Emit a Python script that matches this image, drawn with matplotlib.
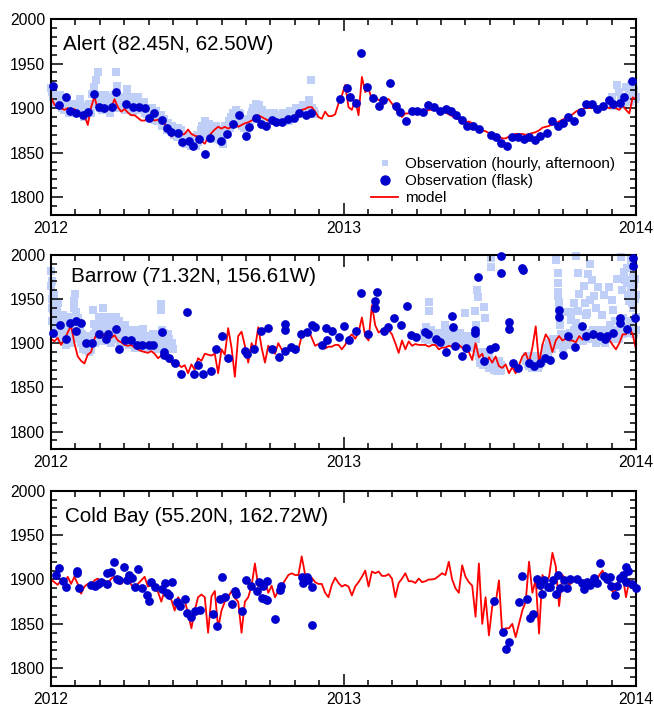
import numpy as np
import matplotlib
matplotlib.use("Agg")
import matplotlib.pyplot as plt
from matplotlib.ticker import MultipleLocator, FixedLocator
from matplotlib.lines import Line2D

plt.rcParams['font.family'] = ['Liberation Sans', 'DejaVu Sans']

# ---------------- data ----------------
station_names = ["Alert (82.45N, 62.50W)", "Barrow (71.32N, 156.61W)", "Cold Bay (55.20N, 162.72W)"]
year_ticks = [2012, 2013, 2014]
legend_labels = ["Observation (hourly, afternoon)", "Observation (flask)", "model"]

# model (evenly spaced through 2012-2013)
alert_model = [1912,1904,1901,1900,1898,1900,1896,1899,1895,1892,
               1892,1881,1901,1913,1898,1898,1899,1898,1900,1910,
               1901,1896,1899,1895,1892,1892,1889,1886,1886,1889,
               1888,1886,1887,1885,1882,1878,1868,1871,1875,1870,
               1871,1876,1871,1869,1868,1863,1860,1867,1872,1876,
               1879,1877,1879,1877,1879,1884,1879,1881,1883,1884,
               1886,1888,1892,1890,1888,1886,1886,1886,1884,1885,
               1888,1888,1888,1892,1894,1898,1899,1901,1901,1896,
               1890,1888,1896,1891,
               1891,1893,1905,1914,1926,1901,1898,1909,1892,1935,
               1918,1922,1909,1912,1909,1908,1910,1910,1905,1899,
               1894,1890,1894,1894,1896,1896,1897,1895,1896,1898,
               1898,1898,1898,1896,1895,1893,1891,1889,1887,1886,
               1884,1885,1883,1879,1876,1875,1874,1872,1871,1869,
               1868,1866,1866,1868,1869,1871,1871,1871,1870,1871,
               1872,1873,1875,1878,1879,1880,1882,1883,1885,1887,
               1889,1891,1893,1896,1898,1899,1900,1900,1900,1900,
               1898,1899,1901,1900,1901,1900,1898,1903,1898,1894,
               1912,1910]

barrow_model = [1905,1902,1906,1898,1904,1912,1920,1900,1885,1880,
                1877,1887,1890,1905,1913,1906,1910,1904,1906,1909,
                1903,1901,1898,1897,1898,1895,1893,1891,1890,1889,
                1891,1888,1883,1886,1884,1880,1878,1875,1876,1873,
                1875,1866,1876,1870,1883,1880,1888,1887,1886,1888,
                1866,1893,1887,1917,1895,1862,1908,1913,1897,1878,
                1900,1893,1918,1895,1878,1897,1893,1888,1900,1893,
                1888,1895,1894,1896,1893,1908,1911,1915,1906,1897,
                1899,1895,1894,1896,
                1896,1898,1898,1893,1898,1906,1910,1905,1912,1929,
                1908,1903,1943,1920,1912,1915,1917,1915,1910,1900,
                1889,1903,1893,1902,1897,1899,1898,1898,1898,1896,
                1898,1898,1893,1895,1895,1897,1896,1894,1898,1895,
                1891,1890,1881,1900,1884,1888,1876,1884,1878,1885,
                1874,1872,1876,1866,1873,1866,1875,1885,1889,1878,
                1895,1919,1877,1898,1910,1904,1890,1903,1908,1903,
                1905,1903,1903,1901,1908,1904,1907,1908,1906,1907,
                1911,1905,1906,1904,1898,1893,1900,1910,1910,1918,
                1910,1893]

coldbay_model = [1900,1897,1894,1899,1895,1903,1895,1903,1895,1884,
                 1892,1895,1894,1899,1901,1897,1899,1895,1901,1903,
                 1897,1895,1899,1905,1894,1890,1895,1899,1903,1892,
                 1894,1890,1886,1875,1888,1882,1877,1865,1880,1874,
                 1876,1862,1845,1865,1880,1883,1880,1840,1881,1887,
                 1845,1865,1875,1880,1887,1879,1875,1840,1875,1880,
                 1893,1918,1892,1896,1898,1885,1893,1880,1887,1893,
                 1899,1905,1907,1905,1905,1926,1906,1899,1902,1897,
                 1895,1895,1885,1880,
                 1894,1902,1896,1892,1894,1892,1882,1892,1897,1903,
                 1910,1892,1909,1907,1909,1904,1904,1906,1901,1880,
                 1896,1901,1907,1898,1898,1896,1901,1897,1898,1900,
                 1900,1901,1904,1907,1905,1920,1900,1890,1885,1916,
                 1903,1897,1893,1858,1918,1850,1880,1837,1870,1873,
                 1899,1838,1845,1845,1850,1835,1850,1865,1875,1920,
                 1885,1900,1839,1905,1898,1903,1930,1915,1870,1905,
                 1900,1894,1897,1901,1899,1896,1897,1898,1897,1895,
                 1905,1910,1901,1894,1886,1888,1903,1905,1880,1899,
                 1897,1892]

# flask observations: months since Jan 2012, value
alert_flask_t = [0.10,0.34,0.63,0.79,1.04,1.30,1.50,1.75,1.98,2.19,2.49,2.66,3.09,3.37,3.62,
                 3.84,4.00,4.22,4.54,4.75,4.92,5.20,5.37,5.68,5.83,6.07,6.31,6.52,6.97,7.20,
                 7.45,7.70,7.98,8.14,8.43,8.60,8.81,9.06,9.25,9.48,9.74,9.98,10.19,10.48,10.68,
                 11.85,12.15,12.27,12.53,12.70,12.95,13.21,13.45,13.64,13.91,14.17,14.33,14.56,
                 14.79,15.03,15.25,15.47,15.72,15.95,16.22,16.40,16.63,16.86,17.08,17.31,17.54,
                 18.05,18.24,18.45,18.69,18.93,19.16,19.39,19.61,19.84,20.07,20.34,20.56,20.78,
                 21.00,21.23,21.45,21.76,21.93,22.20,22.39,22.64,22.91,23.06,23.35,23.52,23.82]
alert_flask_v = [1925,1903,1912,1897,1894,1892,1896,1916,1901,1900,1901,1918,1905,1901,1901,
                 1900,1889,1894,1887,1878,1873,1872,1862,1863,1858,1865,1848,1866,1863,1871,
                 1882,1892,1869,1879,1889,1882,1880,1887,1884,1884,1888,1889,1895,1892,1894,
                 1910,1922,1913,1906,1962,1924,1911,1902,1909,1928,1902,1896,1885,
                 1897,1897,1896,1904,1901,1897,1899,1897,1892,1887,1880,1880,1877,
                 1870,1868,1861,1858,1868,1868,1865,1868,1864,1869,1872,1886,1880,
                 1883,1890,1886,1896,1905,1905,1899,1902,1909,1905,1906,1912,1930]

barrow_flask_t = [0.10,0.37,0.63,0.78,1.01,1.02,1.22,1.43,1.69,1.98,2.25,2.35,2.65,2.80,3.03,
                  3.27,3.51,3.72,4.02,4.18,4.54,4.62,4.63,4.85,5.08,5.34,5.56,5.85,6.04,6.24,
                  6.56,6.76,7.00,7.28,7.95,8.05,8.32,8.62,8.91,9.08,9.36,9.58,9.58,9.60,9.84,
                  9.99,10.27,10.49,10.70,10.83,11.11,11.30,11.33,
                  11.53,11.83,12.01,12.24,12.51,12.72,12.99,13.28,13.29,13.37,13.66,13.81,14.06,
                  14.36,14.61,14.77,14.99,15.36,15.45,15.78,15.97,16.22,16.45,16.48,16.59,16.86,
                  17.04,17.38,17.38,17.51,17.75,18.00,18.20,18.47,18.48,18.81,18.81,18.96,19.15,
                  19.34,19.35,19.59,19.81,20.08,20.28,20.49,20.85,20.85,21.00,21.20,21.49,21.78,
                  21.96,22.23,22.52,22.71,22.82,23.07,23.34,23.34,23.64,23.86,23.86,23.96]
barrow_flask_v = [1912,1920,1905,1923,1914,1925,1923,1900,1900,1910,1905,1910,1916,1893,1904,
                  1904,1898,1898,1898,1898,1913,1890,1887,1883,1877,1865,1935,1865,1875,1865,
                  1869,1893,1908,1883,1891,1888,1893,1914,1917,1893,1884,1922,1915,1891,1896,
                  1893,1910,1913,1921,1918,1898,1917,1904,
                  1914,1907,1919,1904,1914,1957,1910,1948,1940,1958,1914,1918,1928,
                  1921,1942,1909,1907,1913,1910,1905,1901,1890,1931,1918,1897,1885,
                  1894,1915,1911,1975,1880,1893,1896,1979,1999,1924,1916,1877,1872,
                  1985,1983,1878,1874,1877,1883,1881,1930,1938,1887,1908,1896,1919,
                  1908,1910,1908,1905,1908,1911,1928,1923,1916,1996,1987,1929]

coldbay_flask_t = [0.19,0.31,0.51,0.61,1.05,1.07,1.16,1.63,1.80,1.94,2.04,2.28,2.31,2.46,2.57,
                   2.69,2.80,3.01,3.10,3.21,3.33,3.44,3.58,3.74,3.92,4.04,4.10,4.26,4.56,4.69,
                   4.74,4.84,4.96,5.18,5.29,5.50,5.57,5.74,5.91,6.11,6.66,6.80,6.93,7.03,7.14,
                   7.41,7.55,7.59,7.82,7.99,8.20,8.44,8.53,8.64,8.71,8.78,8.85,8.88,9.20,9.39,
                   9.42,10.28,10.35,10.49,10.56,10.69,10.69,
                   18.18,18.54,18.65,18.79,19.22,19.33,19.51,19.67,19.78,19.92,20.06,20.14,20.22,
                   20.38,20.49,20.60,20.71,20.82,20.90,21.04,21.17,21.31,21.58,21.79,21.85,21.99,
                   22.13,22.29,22.40,22.54,22.67,22.81,22.92,22.99,23.12,23.22,23.34,23.47,23.59,
                   23.60,23.67,23.82,23.98]
coldbay_flask_v = [1905,1913,1898,1892,1907,1909,1890,1894,1893,1895,1897,1907,1895,1908,1920,
                   1901,1899,1914,1899,1905,1902,1892,1912,1890,1882,1876,1897,1891,1889,1896,
                   1885,1882,1897,1875,1870,1878,1862,1858,1865,1866,1861,1848,1878,1903,1880,
                   1872,1887,1884,1864,1899,1893,1887,1897,1879,1893,1878,1898,1877,1856,1888,
                   1893,1903,1896,1903,1899,1892,1849,
                   1876,1841,1822,1830,1875,1904,1878,1857,1861,1900,1894,1884,1899,
                   1892,1891,1899,1884,1905,1890,1899,1890,1900,1901,1896,1889,1897,
                   1894,1902,1896,1919,1904,1900,1903,1893,1882,1893,1902,1905,1914,
                   1897,1909,1895,1890]

# hourly (afternoon) observations: months since Jan 2012, value
alert_hourly_t = [0.00,0.05,0.12,0.20,0.30,0.40,0.50,0.60,0.70,0.80,
                  0.90,1.00,1.10,1.20,1.30,1.40,1.50,1.60,1.70,1.78,
                  1.85,1.92,1.98,2.05,2.15,2.25,2.35,2.45,2.55,2.65,
                  2.70,2.80,2.90,3.00,3.10,3.20,3.30,3.40,3.50,3.60,
                  3.70,3.80,3.90,4.00,4.10,4.20,4.30,4.40,4.50,4.60,
                  4.70,4.80,4.90,5.00,5.10,5.20,5.30,5.40,5.50,5.60,
                  5.70,5.80,5.90,6.00,6.10,6.20,6.30,6.40,6.50,6.60,
                  6.70,6.80,6.90,7.00,7.10,7.20,7.30,7.40,7.50,7.60,
                  7.70,7.80,7.90,8.00,8.10,8.20,8.30,8.40,8.50,8.60,
                  8.70,8.80,8.90,9.00,9.10,9.20,9.30,9.40,9.50,9.60,
                  9.70,9.80,9.90,10.00,10.10,10.20,10.30,10.40,10.50,10.60,
                  10.65,10.70,10.80,22.90,23.00,23.10,23.20,23.30,23.40,23.50,
                  23.60,23.70,23.80,23.90,24.00,
                  0.15,0.45,0.75,1.05,1.35,1.65,2.10,2.40,2.75,3.05,
                  3.35,3.65,3.95,4.25,4.55,4.85,5.15,5.45,5.75,6.05,
                  6.35,6.65,6.95,7.25,7.55,7.85,8.15,8.45,8.75,9.05,
                  9.35,9.65,9.95,10.25,10.55,10.85,23.05,23.45,23.75,23.95,
                  0.08,0.25,0.35,0.55,0.65,0.85,0.95,1.15,1.25,1.45,
                  1.55,1.75,1.88,2.00,2.20,2.30,2.50,2.60,2.85,2.95,
                  3.15,3.25,3.45,3.55,3.75,3.85,4.05,4.15,4.35,4.45,
                  4.65,4.75,4.95,5.05,5.25,5.35,5.55,5.65,5.85,5.95,
                  6.15,6.25,6.45,6.55,6.75,6.85,7.05,7.15,7.35,7.45,
                  7.65,7.75,7.95,8.05,8.25,8.35,8.55,8.65,8.85,8.95,
                  9.15,9.25,9.45,9.55,9.75,9.85,10.05,10.15,10.35,10.45]
alert_hourly_v = [1922,1918,1915,1912,1910,1908,1905,1902,1900,1898,
                  1903,1900,1905,1910,1897,1893,1900,1903,1916,1924,
                  1931,1941,1910,1905,1910,1903,1908,1900,1912,1940,
                  1925,1905,1908,1912,1921,1905,1902,1910,1906,1904,
                  1900,1907,1899,1895,1890,1893,1897,1888,1892,1885,
                  1880,1883,1877,1873,1870,1878,1868,1865,1870,1862,
                  1866,1860,1864,1870,1868,1880,1886,1875,1882,1878,
                  1870,1865,1872,1868,1876,1880,1885,1890,1887,1898,
                  1895,1885,1878,1882,1888,1892,1900,1905,1895,1890,
                  1893,1886,1890,1895,1888,1892,1886,1890,1894,1889,
                  1893,1897,1892,1896,1900,1895,1898,1903,1897,1909,
                  1931,1900,1897,1906,1912,1904,1926,1918,1913,1908,
                  1924,1916,1926,1920,1912,
                  1905,1900,1895,1897,1890,1895,1898,1895,1900,1898,
                  1896,1898,1893,1887,1880,1875,1868,1862,1858,1862,
                  1870,1868,1864,1876,1882,1880,1885,1890,1884,1887,
                  1884,1888,1890,1893,1895,1893,1902,1903,1907,1910,
                  1912,1905,1915,1898,1908,1905,1895,1900,1902,1898,
                  1905,1905,1915,1900,1915,1898,1905,1915,1910,1900,
                  1898,1912,1900,1912,1904,1895,1890,1900,1885,1890,
                  1888,1875,1880,1870,1872,1875,1860,1868,1866,1858,
                  1875,1872,1868,1876,1880,1875,1860,1880,1878,1895,
                  1890,1893,1885,1875,1896,1890,1903,1898,1895,1890,
                  1895,1885,1892,1890,1886,1893,1900,1893,1903,1895]

barrow_hourly_t = [0.00,0.02,0.04,0.05,0.06,0.08,0.10,0.12,0.14,0.16,
                   0.18,0.20,0.22,0.25,0.28,0.30,0.33,0.36,0.40,0.44,
                   0.48,0.52,0.56,0.60,0.64,0.68,0.72,0.76,0.80,0.85,
                   0.90,0.95,0.98,1.02,1.06,1.10,1.15,1.20,1.25,1.30,
                   1.35,1.40,1.45,1.50,1.55,1.60,1.65,1.72,1.75,1.80,
                   1.85,1.90,1.95,2.00,2.05,2.12,2.15,2.20,2.25,2.30,
                   2.35,2.40,2.45,2.50,2.55,2.60,2.65,2.70,2.75,2.80,
                   2.85,2.90,2.95,3.00,3.05,3.10,3.15,3.20,3.25,3.30,
                   3.35,3.40,3.45,3.55,3.60,3.70,3.75,3.78,3.80,3.90,
                   3.95,4.05,4.10,4.15,4.20,4.30,4.40,4.45,4.50,4.52,
                   4.55,4.60,4.65,4.70,4.75,4.80,4.85,4.90,4.95,5.00,
                   15.30,15.35,15.42,15.50,15.52,15.55,15.62,15.70,15.78,15.85,
                   15.92,16.00,16.08,16.15,16.20,16.28,16.35,16.42,16.50,16.58,
                   16.65,16.72,16.80,16.90,16.98,17.05,17.12,17.20,17.30,17.38,
                   17.44,17.47,17.50,17.52,17.58,17.65,17.72,17.78,17.82,17.85,
                   17.92,17.98,18.05,18.07,18.10,18.18,18.25,18.32,18.40,18.45,
                   19.50,19.58,19.66,19.75,19.83,19.92,20.00,20.08,20.16,20.25,
                   20.32,20.40,20.48,20.55,20.62,20.70,20.72,20.78,20.78,20.82,
                   20.78,20.85,20.85,20.85,20.88,20.95,21.02,21.10,21.18,21.25,
                   21.35,21.35,21.42,21.50,21.55,21.62,21.66,21.60,21.55,21.75,
                   21.82,21.90,21.96,22.00,22.05,22.13,22.20,22.13,22.27,22.35,
                   22.45,22.50,22.58,22.65,22.72,22.80,22.89,22.88,23.00,23.05,
                   23.12,23.20,23.25,23.32,23.37,23.42,23.50,23.55,23.62,23.68,
                   23.72,23.78,23.78,23.85,23.90,23.94,23.98,23.98,24.00,23.48,
                   0.03,0.07,0.11,0.15,0.19,0.23,0.27,0.31,0.35,0.39,
                   0.43,0.47,0.51,0.55,0.59,0.63,0.67,0.71,0.75,0.79,
                   0.83,0.87,0.92,0.96,1.00,1.04,1.08,1.12,1.17,1.22,
                   1.27,1.32,1.38,1.43,1.48,1.53,1.58,1.63,1.68,1.77,
                   1.83,1.88,1.93,1.98,2.03,2.08,2.18,2.23,2.28,2.33,
                   2.38,2.43,2.48,2.53,2.58,2.63,2.68,2.73,2.78,2.83,
                   2.88,2.93,2.98,3.03,3.08,3.13,3.18,3.23,3.28,3.33,
                   3.38,3.43,3.50,3.58,3.65,3.72,3.85,3.92,4.00,4.08,
                   4.12,4.18,4.25,4.35,4.42,4.58,4.62,4.68,4.72,4.78,
                   15.33,15.40,15.47,15.58,15.66,15.74,15.82,15.88,15.96,16.04,
                   16.12,16.18,16.25,16.32,16.38,16.46,16.54,16.62,16.69,16.76,
                   16.85,16.94,17.02,17.10,17.16,17.25,17.34,17.42,17.55,17.62,
                   17.68,17.75,17.88,17.95,18.02,18.14,18.22,18.28,18.36,18.48,
                   19.54,19.62,19.70,19.79,19.88,19.96,20.04,20.12,20.20,20.28,
                   20.36,20.44,20.52,20.58,20.66,20.92,21.00,21.06,21.14,21.22,
                   21.30,21.40,21.46,21.52,21.70,21.78,21.86,22.08,22.16,22.24,
                   22.32,22.40,22.55,22.62,22.70,22.76,22.84,22.95,23.10,23.16,
                   23.28,23.40,23.45,23.58,23.66,23.74,23.82,23.88,23.92,23.96,
                   21.05,21.45,21.85,22.05,22.35,22.60,22.70,23.15,23.62,23.88]
barrow_hourly_v = [1982,1965,1950,1940,1925,1957,1946,1935,1920,1930,
                   1944,1912,1926,1935,1945,1918,1928,1908,1922,1930,
                   1915,1905,1925,1898,1912,1920,1930,1905,1915,1922,
                   1910,1948,1956,1935,1918,1928,1912,1920,1905,1895,
                   1900,1905,1892,1898,1890,1902,1895,1938,1910,1900,
                   1915,1905,1925,1912,1902,1940,1920,1910,1925,1905,
                   1930,1915,1900,1928,1910,1918,1930,1905,1915,1925,
                   1900,1912,1920,1905,1915,1900,1910,1898,1908,1915,
                   1900,1905,1895,1915,1900,1905,1895,1916,1902,1898,
                   1905,1900,1895,1905,1898,1900,1893,1910,1944,1938,
                   1915,1898,1905,1892,1900,1910,1905,1895,1900,1893,
                   1912,1905,1915,1947,1936,1908,1912,1904,1910,1906,
                   1902,1908,1900,1921,1910,1904,1915,1906,1900,1905,
                   1910,1898,1904,1908,1934,1900,1905,1895,1900,1936,
                   1921,1960,1952,1890,1880,1885,1875,1941,1928,1878,
                   1882,1872,1996,1986,1876,1870,1880,1873,1868,1875,
                   1880,1876,1884,1872,1878,1882,1875,1885,1880,1890,
                   1895,1888,1900,1893,1905,1898,1994,1979,1968,1958,
                   1953,1947,1941,1935,1921,1900,1895,1905,1898,1908,
                   1935,1926,1900,1905,1999,1979,1956,1936,1923,1910,
                   1902,1945,1932,1934,1908,1990,1971,1949,1953,1900,
                   1964,1910,1903,1908,1900,1912,1964,1905,1949,1938,
                   1915,1972,1910,1905,1997,1960,1980,1971,1968,1955,
                   1948,1960,1994,1945,1967,1950,1954,1930,1915,1929,
                   1970,1938,1955,1910,1925,1940,1915,1932,1920,1905,
                   1918,1908,1932,1912,1922,1903,1915,1908,1925,1900,
                   1910,1918,1905,1940,1925,1910,1920,1905,1915,1900,
                   1910,1893,1905,1898,1908,1896,1900,1892,1905,1922,
                   1905,1920,1910,1930,1918,1908,1930,1915,1903,1920,
                   1908,1925,1912,1920,1905,1922,1912,1920,1908,1902,
                   1918,1906,1912,1920,1908,1915,1902,1912,1905,1908,
                   1910,1902,1908,1900,1910,1898,1908,1902,1895,1908,
                   1900,1910,1895,1905,1898,1903,1912,1898,1908,1895,
                   1908,1918,1904,1915,1908,1912,1902,1908,1904,1912,
                   1905,1915,1900,1908,1912,1903,1908,1900,1906,1912,
                   1902,1898,1906,1898,1908,1902,1895,1905,1885,1878,
                   1890,1880,1875,1885,1880,1872,1878,1868,1880,1870,
                   1885,1874,1880,1878,1886,1872,1880,1878,1885,1895,
                   1890,1900,1895,1905,1898,1910,1903,1900,1910,1902,
                   1912,1908,1915,1910,1905,1915,1908,1912,1905,1915,
                   1908,1905,1915,1910,1905,1915,1910,1920,1912,1905,
                   1915,1922,1910,1918,1912,1925,1915,1940,1910,1972,
                   1935,1945,1965,1978,1940,1932,1955,1925,1985,1975]

coldbay_hourly_t = []
coldbay_hourly_v = []

# ---------------- styling ----------------
LIGHT = '#bfcff7'
BLUE = '#0000cc'
RED = '#ff0000'

fig = plt.figure(figsize=(6.54, 7.09), dpi=100)
W, H = 654.0, 709.0
panels = [  # left, top, right, bottom in pixels
    (51, 19, 636, 215),
    (51, 254.7, 636, 449.3),
    (51, 490.7, 636, 686),
]
title_pos = [(0.0205, 0.842), (0.035, 0.861), (0.024, 0.841)]

models = [alert_model, barrow_model, coldbay_model]
flask = [(alert_flask_t, alert_flask_v), (barrow_flask_t, barrow_flask_v), (coldbay_flask_t, coldbay_flask_v)]
hourly = [(alert_hourly_t, alert_hourly_v), (barrow_hourly_t, barrow_hourly_v), (coldbay_hourly_t, coldbay_hourly_v)]

for i, (l, t, r, b) in enumerate(panels):
    ax = fig.add_axes([l / W, 1 - b / H, (r - l) / W, (b - t) / H])
    ht, hv = hourly[i]
    if len(ht):
        ax.plot(2012 + np.array(ht) / 12.0, hv, linestyle='none', marker='s',
                markersize=5.4, color=LIGHT, markeredgewidth=0, zorder=1, clip_on=False)
    mv = models[i]
    mx = np.linspace(2012, 2014, len(mv))
    ax.plot(mx, mv, color=RED, lw=1.3, zorder=2)
    ft, fv = flask[i]
    ax.plot(2012 + np.array(ft) / 12.0, fv, linestyle='none', marker='o',
            markersize=6.3, color=BLUE, markeredgewidth=0, zorder=3, clip_on=False)

    ax.set_xlim(2012, 2014)
    ax.set_ylim(1780, 2000)
    ax.xaxis.set_major_locator(FixedLocator(year_ticks))
    ax.xaxis.set_minor_locator(FixedLocator([2012 + k / 12.0 for k in range(1, 24) if k != 12]))
    ax.set_xticklabels([str(y) for y in year_ticks])
    ax.yaxis.set_major_locator(MultipleLocator(50))
    ax.yaxis.set_minor_locator(MultipleLocator(10))
    ax.tick_params(which='both', direction='in', top=True, right=True, width=1.1,
                   labelsize=11.3, pad=4.3, colors='black')
    ax.tick_params(which='major', length=8.6)
    ax.tick_params(which='minor', length=4.3)
    for s in ax.spines.values():
        s.set_linewidth(1.5)
    ax.text(title_pos[i][0], title_pos[i][1], station_names[i], transform=ax.transAxes,
            fontsize=14.9, ha='left', va='baseline')

    if i == 0:
        handles = [
            Line2D([], [], linestyle='none', marker='s', markersize=4.5, color=LIGHT, markeredgewidth=0),
            Line2D([], [], linestyle='none', marker='o', markersize=7.5, color=BLUE, markeredgewidth=0),
            Line2D([], [], color=RED, lw=1.3),
        ]
        ax.legend(handles, legend_labels, loc='upper left', bbox_to_anchor=(0.547, 0.295),
                  frameon=False, fontsize=11, handlelength=1.8, handletextpad=0.45,
                  labelspacing=0.19, borderpad=0, borderaxespad=0)

fig.savefig("out.png", dpi=100)
